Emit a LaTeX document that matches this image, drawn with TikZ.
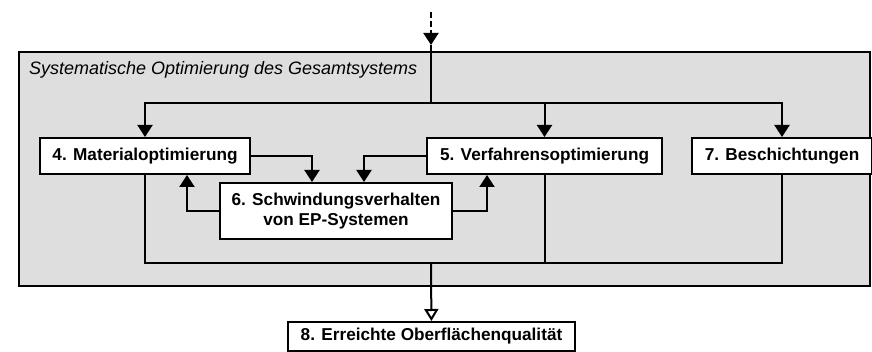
\documentclass[tikz,border=0pt]{standalone}
\usepackage{fontspec}
\setmainfont{Liberation Sans}
\usetikzlibrary{arrows.meta, positioning}

\begin{document}
\begin{tikzpicture}[x=0.5pt, y=-0.5pt,
        every node/.style={font=\fontsize{8.6pt}{10.2pt}\selectfont\bfseries},
        box/.style={rectangle, draw, line width=1pt, fill=white, minimum height=18pt, inner sep=0pt, align=center},
        frame/.style={draw, line width=0.8pt, fill=black!13},
        line/.style={line width=1pt},
        arr/.style={line, -{Triangle[width=7.5pt, length=6pt]}},
        oarr/.style={line, -{Triangle[open, fill=white, width=7pt, length=6pt]}}]
    \useasboundingbox (0,0) rectangle (872,352);
    \draw[frame] (19,52) rectangle (870,286);
    \node[anchor=west, font=\fontsize{9pt}{11pt}\selectfont\itshape] (title) at (22,70) {Systematische Optimierung des Gesamtsystems};

    \node[box, minimum width=105pt] (mat) at (145,156) {4. Materialoptimierung};
    \node[box, minimum width=117.5pt, right=87.5pt of mat] (verf) {5. Verfahrensoptimierung};
    \node[box, minimum width=90pt, right=14pt of verf] (besch) {7. Beschichtungen};
    \node[box, minimum width=116pt, minimum height=28pt] (schw) at (336,211) {6. Schwindungsverhalten\\von EP-Systemen};
    \node[box, minimum width=143.5pt, minimum height=14.5pt] (ober) at (431.5,336.5) {8. Erreichte Oberflächenqualität};

    \coordinate (in) at (431,12);
    \coordinate (tip) at (431,45);
    \coordinate (split) at (431,103);
    \coordinate (merge) at (431,263);

    % input from above
    \draw[arr, dash pattern=on 3pt off 1.5pt] (in) -- (tip);
    \draw[line] (tip) -- (split);
    \draw[arr] (split) -| (mat);
    \draw[arr] (split) -| (verf);
    \draw[arr] (split) -| (besch);

    % exchange with shrinkage
    \draw[arr] (mat.east) -| ([xshift=-12pt]schw.north);
    \draw[arr] (verf.west) -| ([xshift=14pt]schw.north);
    \draw[arr] (schw.west) -| ([xshift=21pt]mat.south);
    \draw[arr] (schw.east) -| ([xshift=-28.75pt]verf.south);

    % result
    \draw[line] (mat.south) |- (merge) -| (besch.south);
    \draw[line] (verf.south) -- (verf.south |- merge);
    \draw[oarr] (merge) -- (ober);
\end{tikzpicture}
\end{document}
